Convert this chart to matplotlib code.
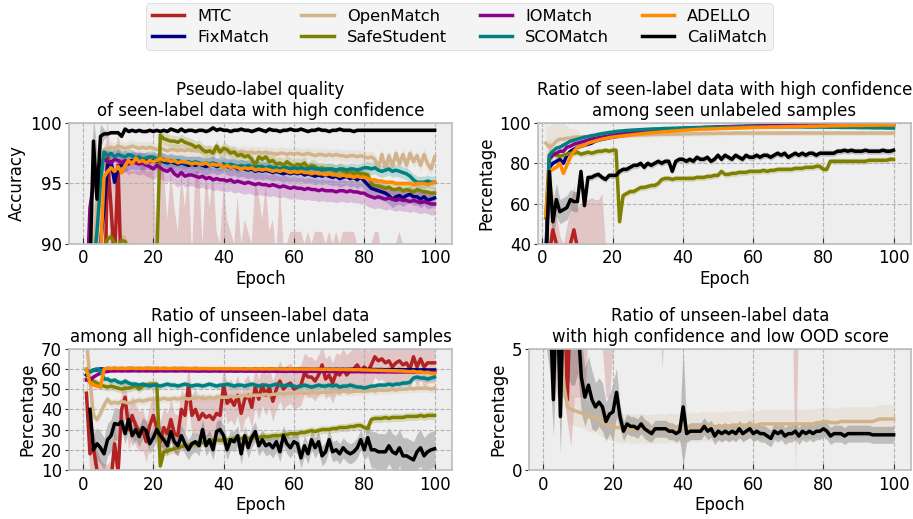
import numpy as np
import matplotlib.pyplot as plt

plt.style.use('bmh')

epochs = np.arange(1, 101)
methods = ['MTC', 'FixMatch', 'OpenMatch', 'SafeStudent', 'IOMatch', 'SCOMatch', 'ADELLO', 'CaliMatch']
colors = ['firebrick', 'navy', 'tan', 'olive', 'darkmagenta', 'teal', 'darkorange', 'black']

# ---------- panel 1: pseudo-label accuracy of seen-label data ----------
acc_mtc = [70, 72, 75, 78, 80, 82, 97.2, 93.0, 88.5, 96.5,
           86, 82, 80, 83, 85, 81, 84, 82, 80, 83,
           82, 84, 81, 83, 80, 82, 84, 81, 83, 82,
           80, 83, 85, 82, 81, 84, 82, 80, 83, 82,
           84, 81, 83, 82, 80, 84, 82, 83, 81, 82,
           83, 81, 84, 82, 80, 83, 82, 84, 81, 83,
           82, 80, 83, 81, 84, 82, 83, 81, 82, 80,
           83, 82, 84, 81, 83, 82, 80, 83, 82, 84,
           81, 83, 82, 80, 83, 82, 84, 81, 83, 82,
           80, 83, 82, 84, 81, 82, 83, 80, 82, 83]
acc_mtc_sd = [20, 20, 18, 16, 15, 14, 3, 4, 6, 3,
              11, 15, 16, 13, 11, 15, 13, 14, 16, 13,
              8, 12, 15, 9, 16, 11, 7, 15, 10, 14,
              9, 13, 11, 8, 15, 9, 14, 11, 7, 13,
              8, 10, 7, 12, 10, 8, 9, 7, 14, 12,
              9, 14, 7, 10, 9, 12, 8, 6, 10, 8,
              9, 11, 7, 10, 6, 9, 8, 10, 8, 11,
              7, 9, 6, 10, 8, 9, 11, 7, 8, 6,
              8, 7, 9, 11, 6, 8, 6, 9, 7, 9,
              10, 7, 8, 6, 9, 8, 7, 10, 8, 7]
acc_fix = [82, 84, 86, 88, 90, 93.0, 96.5, 96.8, 95.1, 96.4,
           96.5, 96.7, 96.8, 96.9, 96.8, 96.9, 96.8, 96.9, 96.8, 96.9,
           96.8, 96.9, 96.8, 96.7, 96.8, 96.7, 96.6, 96.7, 96.6, 96.5,
           96.6, 96.5, 96.6, 96.5, 96.4, 96.5, 96.6, 96.4, 96.5, 96.6,
           96.4, 96.3, 96.4, 96.2, 96.3, 96.2, 96.1, 96.2, 96.0, 96.1,
           96.0, 96.1, 96.0, 95.9, 96.0, 95.9, 95.8, 95.9, 95.8, 95.9,
           95.8, 95.9, 95.7, 95.8, 95.7, 95.6, 95.7, 95.6, 95.7, 95.6,
           95.5, 95.6, 95.4, 95.5, 95.6, 95.4, 95.5, 95.3, 95.5, 95.2,
           94.9, 94.6, 94.5, 94.4, 94.3, 94.2, 94.0, 93.7, 93.9, 94.0,
           93.8, 94.0, 94.1, 93.9, 93.9, 93.7, 93.9, 93.6, 93.7, 93.8]
acc_open = [86, 88, 89, 93, 96, 97.8, 97.9, 98.0, 97.9, 98.1,
            98.0, 97.9, 98.0, 98.1, 98.0, 97.9, 98.0, 97.9, 98.0, 97.9,
            97.8, 97.9, 97.8, 97.7, 97.8, 97.8, 97.7, 97.8, 97.7, 97.8,
            97.7, 97.8, 97.7, 97.6, 97.7, 97.7, 97.6, 97.7, 97.6, 97.7,
            97.6, 97.7, 97.6, 97.5, 97.6, 97.6, 97.5, 97.6, 97.5, 97.6,
            97.5, 97.6, 97.5, 97.5, 97.4, 97.5, 97.5, 97.4, 97.5, 97.4,
            97.5, 97.4, 97.4, 97.5, 97.4, 97.3, 97.4, 97.4, 97.3, 97.4,
            97.3, 97.4, 97.3, 97.3, 97.2, 97.3, 97.3, 97.2, 97.3, 97.2,
            97.1, 97.2, 97.0, 96.3, 97.4, 96.2, 97.3, 96.4, 97.5, 96.6,
            97.4, 96.5, 97.5, 96.8, 97.3, 96.5, 97.4, 96.6, 96.2, 97.2]
acc_safe = [86, 87, 87.5, 88, 88.5, 89.5, 90.4, 90.6, 90.1, 89.8,
            90.3, 90.2, 89.5, 89.0, 88.8, 88.5, 88.7, 88.4, 88.6, 88.5,
            88.7, 99.0, 98.7, 98.6, 98.5, 98.5, 98.4, 98.6, 98.4, 98.3,
            98.2, 98.0, 98.1, 97.8, 97.6, 97.7, 97.5, 98.1, 97.6, 97.9,
            97.8, 97.5, 97.6, 97.3, 97.4, 97.2, 97.3, 97.0, 96.5, 97.2,
            97.0, 97.2, 96.8, 96.9, 96.6, 96.7, 96.5, 96.8, 96.6, 96.4,
            96.6, 96.5, 96.7, 96.3, 96.5, 96.4, 96.2, 96.3, 96.1, 96.2,
            96.1, 96.0, 96.2, 96.0, 95.9, 96.0, 95.8, 95.9, 95.8, 95.8,
            95.7, 95.0, 94.8, 94.8, 94.7, 94.6, 94.7, 94.5, 94.5, 94.6,
            94.4, 94.5, 94.4, 94.3, 94.5, 94.4, 94.3, 94.3, 94.2, 94.2]
acc_io = [85, 93.0, 95.0, 96.0, 96.8, 97.0, 96.8, 96.7, 97.0, 96.9,
          96.7, 96.9, 96.6, 96.8, 96.7, 96.6, 96.7, 96.5, 96.4, 96.2,
          96.5, 96.3, 96.1, 96.0, 96.2, 95.8, 95.6, 95.9, 95.6, 95.7,
          95.7, 95.6, 95.5, 95.6, 95.4, 95.5, 95.3, 95.4, 95.3, 95.3,
          95.2, 95.3, 95.1, 95.2, 95.1, 95.0, 95.1, 95.0, 94.9, 95.0,
          94.9, 94.9, 94.8, 94.9, 94.8, 94.7, 94.8, 94.7, 94.6, 94.7,
          94.6, 94.6, 94.5, 94.6, 94.5, 94.5, 94.4, 94.5, 94.4, 94.4,
          94.4, 94.3, 94.4, 94.4, 94.3, 94.4, 94.3, 94.3, 94.2, 94.2,
          94.0, 93.9, 93.8, 93.9, 93.8, 93.7, 93.8, 93.7, 93.6, 93.7,
          93.6, 93.6, 93.5, 93.6, 93.5, 93.4, 93.5, 93.4, 93.3, 93.3]
acc_sco = [84, 86, 88, 91, 95, 97.6, 97.3, 97.5, 97.2, 97.4,
           97.3, 97.2, 97.4, 97.3, 97.1, 97.2, 97.0, 97.1, 97.2, 97.2,
           97.0, 97.1, 97.0, 96.8, 96.9, 96.8, 96.9, 96.8, 96.7, 96.8,
           96.7, 96.8, 96.7, 96.6, 96.7, 96.6, 96.7, 96.6, 96.5, 96.6,
           96.5, 96.6, 96.5, 96.4, 96.5, 96.4, 96.5, 96.4, 96.3, 96.4,
           96.4, 96.3, 96.4, 96.3, 96.3, 96.2, 96.3, 96.3, 96.2, 96.3,
           96.2, 96.3, 96.2, 96.2, 96.3, 96.2, 96.2, 96.1, 96.2, 96.2,
           96.2, 96.1, 96.2, 96.2, 96.1, 96.2, 96.2, 96.1, 96.2, 96.3,
           96.3, 96.2, 96.3, 96.1, 96.0, 96.1, 96.2, 96.0, 96.1, 96.0,
           95.9, 95.8, 95.6, 95.3, 95.1, 95.1, 95.1, 95.2, 95.1, 95.1]
acc_adello = [83, 85, 87, 88, 89, 95.5, 96.0, 96.3, 96.0, 96.4,
              95.9, 96.5, 96.9, 96.6, 97.1, 96.8, 96.9, 96.7, 96.9, 96.8,
              96.9, 97.1, 96.9, 97.0, 96.8, 96.9, 96.7, 96.8, 96.8, 96.7,
              96.6, 96.7, 96.6, 96.6, 96.7, 96.5, 96.6, 96.5, 96.6, 96.3,
              96.5, 96.3, 96.4, 96.3, 96.2, 96.3, 96.2, 96.3, 96.1, 96.2,
              96.1, 96.2, 96.1, 96.0, 96.1, 96.0, 96.1, 96.0, 95.9, 96.0,
              95.9, 96.0, 95.9, 95.9, 95.8, 95.9, 95.8, 95.8, 95.7, 95.8,
              95.7, 95.7, 95.6, 95.7, 95.6, 95.6, 95.5, 95.6, 95.5, 95.5,
              95.4, 95.3, 95.3, 95.2, 95.2, 95.1, 95.1, 95.1, 95.0, 95.0,
              95.0, 95.0, 95.0, 94.9, 95.0, 95.0, 95.0, 94.9, 95.0, 95.1]
acc_cali = [85, 88, 98.5, 93.7, 98.9, 99.1, 99.1, 99.2, 99.2, 99.2,
            98.9, 99.5, 99.3, 99.4, 99.3, 99.4, 99.3, 99.3, 99.4, 99.3,
            99.4, 99.3, 99.4, 99.3, 99.5, 99.4, 99.3, 99.5, 99.3, 99.4,
            99.4, 99.3, 99.4, 99.4, 99.3, 99.4, 99.6, 99.4, 99.5, 99.4,
            99.4, 99.3, 99.4, 99.4, 99.5, 99.4, 99.4, 99.3, 99.4, 99.5,
            99.4, 99.3, 99.5, 99.4, 99.4, 99.3, 99.4, 99.4, 99.5, 99.4,
            99.4, 99.5, 99.4, 99.3, 99.4, 99.4, 99.5, 99.4, 99.4, 99.3,
            99.4, 99.4, 99.5, 99.4, 99.4, 99.4, 99.3, 99.4, 99.4, 99.4,
            99.4, 99.4, 99.4, 99.4, 99.4, 99.4, 99.4, 99.4, 99.4, 99.4,
            99.4, 99.4, 99.4, 99.4, 99.4, 99.4, 99.4, 99.4, 99.4, 99.4]
acc_cali_sd = [5, 6, 2, 4, 1, 0.4] + [0.15] * 94
acc_sd = [acc_mtc_sd, 0.7, 0.5, 0.5, 0.9, 0.5, 0.2, acc_cali_sd]

# ---------- panel 2: ratio of seen-label data with high confidence ----------
seen_mtc = [30, 35, 47, 40, 32, 30, 34, 40, 47, 38,
            30, 28, 32, 25, 30, 27, 29, 26, 28, 25,
            26, 24, 27, 25, 23, 26, 24, 22, 25, 27,
            24, 26, 23, 25, 27, 24, 22, 26, 25, 23,
            26, 24, 25, 27, 23, 25, 26, 24, 22, 25,
            27, 24, 26, 23, 25, 24, 26, 27, 23, 25,
            24, 26, 25, 23, 27, 24, 25, 26, 24, 23,
            25, 27, 24, 26, 25, 23, 24, 26, 25, 27,
            24, 25, 23, 26, 24, 27, 25, 24, 26, 25,
            23, 25, 26, 24, 27, 25, 24, 26, 25, 24]
seen_mtc_sd = [20, 25, 20, 15, 12, 10, 15, 20, 22, 20,
               30, 35, 30, 38, 32, 35, 36, 12] + [5] * 82
seen_fix = [35, 78, 80, 81, 82, 80, 84, 86, 87, 88,
            88.5, 89, 89.5, 90, 91, 91.5, 92, 92.3, 92.7, 93,
            93.3, 93.5, 93.8, 94, 94.3, 94.5, 94.8, 95, 95.2, 95.5,
            95.6, 95.8, 96, 96.1, 96.3, 96.4, 96.5, 96.7, 96.8, 97,
            97.1, 97.2, 97.3, 97.3, 97.4, 97.5, 97.5, 97.6, 97.7, 97.8,
            97.8, 97.9, 97.9, 98, 98, 98.1, 98.1, 98.2, 98.2, 98.3,
            98.3, 98.3, 98.4, 98.4, 98.4, 98.5, 98.5, 98.5, 98.6, 98.6,
            98.6, 98.6, 98.7, 98.7, 98.7, 98.7, 98.8, 98.8, 98.8, 98.8,
            98.8, 98.9, 98.9, 98.9, 98.9, 98.9, 98.9, 99, 99, 99,
            99, 99, 99, 99, 99, 99, 99, 99, 99, 99]
seen_open = [90, 88, 89, 91, 92, 92, 92.5, 92.5, 93, 93,
             93, 93.2, 93.2, 93.4, 93.5, 93.5, 93.6, 93.5, 93.6, 93.5,
             93.6, 93.7, 93.8, 93.8, 93.9, 94, 94, 94.1, 94.1, 94.2,
             94.2, 94.3, 94.3, 94.4, 94.4, 94.4, 94.5, 94.5, 94.5, 94.6,
             94.6, 94.6, 94.7, 94.7, 94.7, 94.8, 94.8, 94.8, 94.8, 94.9,
             94.9, 94.9, 94.9, 94.9, 95, 95, 95, 95, 95, 95,
             95, 95, 95, 95, 95, 95, 95, 95, 95, 95,
             95, 95, 95, 95, 95, 95, 95, 95, 95, 95,
             95, 95, 95, 95, 95, 95, 95, 95, 95, 95,
             95, 95, 95, 95, 95, 95, 95, 95, 95, 95]
seen_open_sd = [9, 10, 12, 10, 15, 8, 6, 5, 4, 4] + [1.2] * 90
seen_safe = [53, 84, 85, 84, 83.5, 84, 84.5, 85, 85, 85.5,
             84.5, 85, 85.5, 85, 85.5, 86, 86, 86.5, 86, 86.5,
             86.5, 51, 64, 65, 66, 66, 67, 68, 68, 68.5,
             69, 69, 70, 72, 72.5, 72.5, 72, 72.5, 72.5, 72.5,
             72.5, 72.5, 72.5, 73, 73, 73, 73.5, 73.5, 74, 74,
             76, 74.5, 74.5, 75, 75, 75.5, 75.5, 75.5, 76, 76,
             76, 76, 76.5, 76, 76.5, 76.5, 77, 77, 77, 77,
             77, 77.5, 77.5, 77.5, 78, 78, 78, 78.5, 78.5, 77,
             77, 81, 81, 81, 81, 81, 81, 81, 81, 81,
             81, 81, 81.5, 81.5, 81.5, 81.5, 81.5, 81.5, 82, 82]
seen_safe_sd = [20, 8] + [1.5] * 98
seen_io = [30, 82, 84, 85, 86, 86, 88, 88.5, 89.5, 90,
           90.5, 91, 91.5, 92, 92.3, 92.7, 93, 93.3, 93.6, 94,
           94.2, 94.5, 94.7, 95, 95.2, 95.4, 95.6, 95.8, 96, 96.1,
           96.3, 96.4, 96.6, 96.7, 96.8, 96.9, 97, 97.1, 97.2, 97.3,
           97.4, 97.5, 97.6, 97.7, 97.7, 97.8, 97.9, 97.9, 98, 98.1,
           98.1, 98.2, 98.2, 98.3, 98.3, 98.4, 98.4, 98.5, 98.5, 98.5,
           98.6, 98.6, 98.6, 98.7, 98.7, 98.7, 98.8, 98.8, 98.8, 98.9,
           98.9, 98.9, 98.9, 99, 99, 99, 99, 99, 99.1, 99.1,
           99.1, 99.1, 99.1, 99.1, 99.2, 99.2, 99.2, 99.2, 99.2, 99.2,
           99.2, 99.2, 99.2, 99.3, 99.3, 99.3, 99.3, 99.3, 99.3, 99.3]
seen_sco = [25, 84, 86, 87.5, 88, 89, 90, 91, 91.5, 92,
            92.5, 93, 93.3, 93.7, 94, 94.4, 94.7, 95, 95.3, 95.5,
            95.8, 96, 96.1, 96.3, 96.4, 96.5, 96.6, 96.7, 96.8, 96.9,
            97, 97.1, 97.1, 97.2, 97.3, 97.3, 97.4, 97.4, 97.5, 97.5,
            97.6, 97.6, 97.7, 97.7, 97.7, 97.8, 97.8, 97.8, 97.9, 97.9,
            97.9, 97.9, 98, 98, 98, 98, 98, 98.1, 98.1, 98.1,
            98.1, 98.1, 98.1, 98.1, 98.1, 98.1, 98.1, 98.1, 98.1, 98.1,
            98.1, 98.1, 98.1, 98.1, 98, 98, 98, 98, 98, 98,
            97.9, 97.9, 97.9, 97.9, 97.8, 97.8, 97.8, 97.8, 97.8, 97.7,
            97.7, 97.7, 97.7, 97.6, 97.6, 97.6, 97.6, 97.5, 97.5, 97.5]
seen_adello = [54, 76, 77, 78, 80, 75, 79, 83, 86, 88,
               88.5, 89, 90, 90.5, 91, 91.5, 92, 92.3, 92.7, 93,
               93.2, 93.4, 93.6, 93.8, 94, 94.2, 94.4, 94.6, 94.8, 95,
               95.1, 95.3, 95.4, 95.6, 95.7, 95.8, 96, 96.1, 96.2, 96.4,
               96.5, 96.6, 96.7, 96.8, 96.9, 97, 97, 97.1, 97.1, 97.2,
               97.3, 97.3, 97.4, 97.4, 97.5, 97.5, 97.6, 97.6, 97.7, 97.8,
               97.8, 97.8, 97.9, 97.9, 98, 98, 98, 98.1, 98.1, 98.2,
               98.2, 98.2, 98.3, 98.3, 98.3, 98.4, 98.4, 98.4, 98.5, 98.5,
               98.5, 98.6, 98.6, 98.6, 98.7, 98.7, 98.7, 98.8, 98.8, 98.8,
               98.8, 98.9, 98.9, 98.9, 98.9, 99, 99, 99, 99, 99]
seen_cali = [30, 76, 51, 62, 56, 57, 58, 62, 61, 61,
             76, 59, 73, 73, 74, 74.5, 73, 72, 74, 74,
             74, 76, 77, 77, 78, 79, 79, 80, 78, 80,
             79, 80, 81, 80, 81, 81, 76, 81, 82, 82,
             81, 82, 81, 83, 82, 82, 83, 81, 82, 84,
             82, 84, 83, 82, 84, 83, 82, 84, 83, 83,
             84, 83, 84, 84, 83, 84, 85, 84, 85, 83,
             84, 85, 84, 85, 84, 85, 85, 84, 85, 85,
             85, 85, 85, 86, 86, 86.5, 86, 86.5, 86, 86,
             86, 86.5, 86, 86, 86, 86, 86.5, 86, 86, 86.5]
seen_cali_sd = [10, 15, 10, 8, 6, 6, 6, 5, 5, 5] + [1.5] * 90
seen_sd = [seen_mtc_sd, 0.8, seen_open_sd, seen_safe_sd, 0.5, 0.5, 0.6, seen_cali_sd]

# ---------- panel 3: ratio of unseen-label data among high-confidence samples ----------
un_mtc = [48, 18, 21, 10, 5, 3, 3, 5, 23, 9,
          40, 46, 30, 37, 32, 29, 30, 24, 32, 37,
          31, 24, 31, 28, 35, 28, 27, 40, 37, 52,
          37, 40, 35, 38, 36, 37, 35, 38, 37, 52,
          43, 45, 42, 47, 38, 45, 47, 41, 51, 45,
          52, 47, 51, 44, 50, 54, 50, 52, 53, 50,
          51, 52, 58, 56, 56, 54, 57, 62, 55, 57,
          53, 58, 57, 60, 57, 59, 60, 62, 59, 61,
          59, 62, 66, 64, 65, 63, 64, 61, 63, 64,
          62, 63, 60, 66, 61, 65, 61, 63, 63, 63]
un_fix = [57.0, 58.5, 59.5, 59.5, 60.0, 60.0, 60.2, 60.1, 60.2, 60.1,
          60.2, 60.1, 60.2, 60.2, 60.1, 60.2, 60.1, 60.2, 60.2, 60.1,
          60.2, 60.1, 60.2, 60.1, 60.1, 60.2, 60.1, 60.2, 60.1, 60.1,
          60.1, 60.2, 60.1, 60.1, 60.0, 60.1, 60.1, 60.0, 60.1, 60.0,
          60.0, 60.1, 60.0, 60.0, 60.1, 60.0, 60.0, 60.0, 60.1, 60.0,
          60.0, 59.9, 60.0, 60.0, 59.9, 60.0, 59.9, 60.0, 59.9, 59.9,
          59.9, 60.0, 59.9, 59.9, 59.9, 59.8, 59.9, 59.9, 59.8, 59.9,
          59.8, 59.9, 59.8, 59.8, 59.8, 59.9, 59.8, 59.8, 59.7, 59.8,
          59.7, 59.8, 59.7, 59.7, 59.7, 59.6, 59.7, 59.7, 59.6, 59.7,
          59.6, 59.6, 59.7, 59.6, 59.6, 59.5, 59.6, 59.5, 59.5, 59.5]
un_open = [75.0, 55.0, 37.0, 35.0, 38.0, 42.0, 45.0, 43.0, 43.5, 43.0,
           44.0, 43.5, 43.0, 43.5, 44.0, 44.5, 44.0, 44.5, 45.0, 45.0,
           45.0, 45.0, 45.5, 45.0, 45.0, 45.5, 45.0, 45.5, 45.5, 45.0,
           45.5, 45.5, 46.0, 45.5, 45.5, 46.0, 45.5, 46.0, 46.0, 46.0,
           46.0, 46.5, 46.0, 46.5, 46.5, 47.0, 46.5, 47.0, 47.0, 47.0,
           47.0, 47.5, 47.0, 47.5, 47.5, 48.0, 47.5, 48.0, 48.0, 48.0,
           48.0, 48.5, 48.0, 48.0, 48.5, 48.5, 48.0, 48.5, 48.5, 48.5,
           48.5, 49.0, 48.5, 49.0, 49.0, 48.5, 49.0, 49.0, 49.0, 49.0,
           49.0, 49.5, 49.0, 49.5, 49.5, 49.5, 49.5, 50.0, 49.5, 50.0,
           50.0, 50.0, 50.5, 50.0, 50.5, 50.5, 50.5, 50.5, 50.0, 50.5]
un_safe = [55.0, 55.5, 54.0, 53.0, 52.0, 51.5, 51.0, 51.5, 51.0, 50.5,
           50.0, 50.5, 50.5, 51.0, 51.5, 50.0, 51.5, 52.0, 52.5, 52.5,
           52.5, 12.0, 19.0, 19.5, 20.0, 20.5, 21.0, 21.5, 22.0, 22.0,
           23.0, 23.0, 23.5, 23.5, 24.0, 24.0, 24.5, 25.0, 24.5, 25.0,
           25.0, 25.0, 25.5, 25.5, 25.5, 26.0, 25.5, 26.0, 26.0, 26.0,
           26.5, 26.5, 26.5, 27.0, 27.0, 27.0, 27.5, 27.5, 28.0, 28.0,
           28.0, 28.5, 28.5, 29.0, 29.5, 29.0, 29.5, 30.0, 30.0, 30.0,
           30.5, 30.5, 31.0, 31.0, 31.0, 31.5, 31.5, 32.0, 32.0, 31.0,
           30.5, 35.0, 35.5, 35.5, 35.5, 36.0, 35.5, 36.0, 36.0, 36.0,
           36.0, 36.5, 36.5, 36.5, 36.5, 37.0, 36.5, 37.0, 37.0, 37.0]
un_io = [54.5, 54.5, 56.0, 57.0, 58.0, 58.5, 58.8, 59.0, 59.0, 59.1,
         59.0, 59.1, 59.0, 59.1, 59.1, 59.0, 59.1, 59.0, 59.1, 59.0,
         59.0, 59.1, 59.0, 59.0, 59.1, 59.0, 59.0, 59.1, 59.0, 59.0,
         59.0, 59.0, 58.9, 59.0, 59.0, 58.9, 59.0, 59.0, 58.9, 59.0,
         58.9, 59.0, 58.9, 58.9, 59.0, 58.9, 58.9, 58.9, 58.9, 58.9,
         58.9, 58.8, 58.9, 58.9, 58.8, 58.9, 58.8, 58.8, 58.9, 58.8,
         58.8, 58.8, 58.8, 58.7, 58.8, 58.8, 58.7, 58.8, 58.7, 58.7,
         58.7, 58.7, 58.7, 58.7, 58.6, 58.7, 58.6, 58.7, 58.6, 58.6,
         58.6, 58.6, 58.6, 58.5, 58.6, 58.5, 58.6, 58.5, 58.5, 58.5,
         58.5, 58.5, 58.4, 58.5, 58.4, 58.5, 58.4, 58.4, 58.4, 58.4]
un_sco = [59.5, 58.5, 59.5, 60.0, 59.5, 55.0, 55.0, 54.0, 54.5, 53.5,
          53.0, 54.0, 53.0, 52.5, 52.5, 52.0, 52.5, 52.0, 51.5, 52.0,
          52.0, 51.5, 52.0, 52.5, 52.0, 52.0, 51.5, 52.0, 52.5, 52.0,
          51.5, 52.0, 52.0, 51.5, 52.0, 52.5, 52.0, 51.5, 52.0, 52.0,
          52.5, 52.0, 51.5, 52.0, 52.0, 51.5, 52.0, 52.5, 52.0, 51.5,
          52.0, 52.0, 51.5, 52.0, 52.5, 52.0, 51.5, 52.0, 52.0, 51.5,
          51.0, 51.5, 52.0, 51.5, 51.0, 51.5, 52.0, 51.5, 51.5, 52.0,
          51.5, 52.0, 51.0, 51.5, 51.5, 52.0, 51.5, 51.0, 51.0, 50.5,
          51.0, 51.5, 51.5, 52.0, 52.0, 52.0, 52.5, 52.0, 52.5, 52.5,
          53.0, 53.0, 53.5, 55.5, 56.0, 55.5, 55.5, 55.0, 55.5, 56.0]
un_adello = [60.0, 53.0, 52.0, 51.5, 51.0, 60.0, 60.3, 60.2, 60.4, 60.2,
             60.3, 60.2, 60.3, 60.4, 60.2, 60.3, 60.2, 60.3, 60.3, 60.2,
             60.3, 60.2, 60.3, 60.2, 60.2, 60.3, 60.2, 60.2, 60.3, 60.2,
             60.2, 60.2, 60.1, 60.2, 60.2, 60.1, 60.2, 60.1, 60.2, 60.1,
             60.1, 60.2, 60.1, 60.1, 60.1, 60.0, 60.1, 60.1, 60.0, 60.1,
             60.0, 60.1, 60.0, 60.0, 60.1, 60.0, 60.0, 59.9, 60.0, 60.0,
             59.9, 60.0, 59.9, 59.9, 60.0, 59.9, 59.9, 59.8, 59.9, 59.8,
             59.8, 59.8, 59.7, 59.8, 59.7, 59.7, 59.6, 59.7, 59.6, 59.5,
             59.5, 59.4, 59.4, 59.3, 59.3, 59.2, 59.2, 59.1, 59.1, 59.0,
             59.0, 58.8, 58.6, 58.9, 58.4, 58.6, 58.1, 58.3, 57.9, 57.8]
un_cali = [np.nan, 40, 20, 23, 21, 18, 25, 27, 33, 32.5,
           34, 28, 35, 27, 30, 26.5, 31, 29.5, 23, 26,
           30, 27, 25, 22, 29, 24, 22, 27, 23, 20,
           23, 24, 22, 30, 22, 25, 20, 29, 30, 27,
           20, 25, 24, 27, 18, 27, 21, 26, 29, 22,
           25, 22, 23, 21, 24, 19, 27, 23, 21, 24,
           23, 16, 22, 18, 25, 21, 24, 17, 19, 25,
           19, 20, 18, 21, 19, 18, 19, 21, 25, 20,
           26, 20, 20, 19, 19, 19, 22, 19, 18, 21,
           17, 17, 16, 15, 19, 21, 17, 19, 20, 20.5]
un_cali_sd = [8] * 10 + [5] * 70 + [9] * 20
un_sd = [10, 0.6, 2, 2, 0.5, 1.5, 0.5, un_cali_sd]

# ---------- panel 4: unseen-label data with high confidence and low OOD score ----------
ood_mtc = [9, 9, 8, 8, 7, 8, 2.9, 8, 9, 7,
           6, 6, 9, 9, 10, 10, 9, 8, 8, 9,
           10, 10, 10, 10, 10, 10, 10, 10, 10, 10,
           10, 10, 10, 9, 10, 10, 10, 10, 10, 10,
           10, 10, 10, 10, 10, 10, 10, 10, 10, 10,
           10, 10, 10, 10, 10, 10, 10, 10, 10, 10,
           10, 10, 10, 10, 10, 10, 10, 10, 10, 10,
           10, 10, 10, 10, 10, 10, 10, 10, 10, 10,
           10, 10, 10, 10, 10, 10, 10, 10, 10, 10,
           10, 10, 10, 10, 10, 10, 10, 10, 10, 10]
ood_mtc_sd = [4, 4, 4, 5, 4, 5, 1, 7, 6, 4,
              3, 3, 3, 3, 4, 4, 4, 5, 5, 4,
              3, 3, 3, 3, 3, 3, 3, 3, 3, 3,
              3, 3, 3, 4.8, 3, 3, 3, 3, 3, 3,
              3, 3, 3, 3, 3, 3, 3, 3, 3, 3,
              3, 3, 3, 3, 3, 3, 3, 3, 3, 3,
              3, 3, 3, 3, 3, 3, 3, 3, 3, 3,
              3, 10, 3, 3, 3, 3, 3, 3, 3, 3,
              3, 3, 3, 3, 3, 3, 3, 3, 3, 3,
              3, 3, 3, 3, 3, 3, 3, 3, 3, 3]
ood_open = [7, 7, 6.5, 6, 5.5, 3.5, 2.6, 2.5, 2.45, 2.4,
            2.35, 2.3, 2.2, 2.15, 2.2, 2.05, 1.95, 1.9, 1.85, 1.8,
            1.75, 1.75, 1.7, 1.75, 1.7, 1.7, 1.7, 1.75, 1.7, 1.7,
            1.7, 1.7, 1.75, 1.7, 1.7, 1.75, 1.75, 1.7, 1.75, 1.75,
            1.75, 1.75, 1.8, 1.75, 1.8, 1.8, 1.8, 1.8, 1.8, 1.8,
            1.8, 1.85, 1.8, 1.85, 1.85, 1.85, 1.85, 1.85, 1.9, 1.85,
            1.85, 1.9, 1.9, 1.9, 1.9, 1.9, 1.9, 1.9, 1.9, 1.9,
            1.9, 1.9, 1.9, 1.9, 1.9, 1.9, 1.9, 1.95, 1.95, 2.0,
            2.0, 1.95, 1.95, 1.95, 2.0, 2.0, 2.0, 2.0, 2.0, 2.0,
            2.0, 2.0, 2.0, 2.0, 2.05, 2.1, 2.1, 2.1, 2.1, 2.1]
ood_cali = [8, 7, 2.9, 8, 2.2, 8, 7, 6, 6, 6,
            3.8, 3.0, 3.5, 2.9, 2.6, 2.8, 2.6, 2.0, 2.3, 2.4,
            3.2, 2.2, 1.6, 1.9, 1.8, 1.8, 1.7, 1.9, 1.7, 1.6,
            1.5, 1.7, 1.7, 1.7, 1.7, 1.6, 1.6, 1.5, 1.6, 2.6,
            1.5, 1.6, 1.6, 1.6, 1.6, 1.8, 1.6, 1.7, 1.4, 1.6,
            1.5, 1.6, 1.5, 1.6, 1.5, 1.7, 1.5, 1.6, 1.7, 1.5,
            1.6, 1.5, 1.5, 1.4, 1.3, 1.6, 1.5, 1.6, 1.4, 1.5,
            1.5, 1.6, 1.4, 1.6, 1.5, 1.6, 1.5, 1.6, 1.6, 1.7,
            1.6, 1.4, 1.5, 1.5, 1.5, 1.4, 1.5, 1.5, 1.5, 1.5,
            1.5, 1.5, 1.5, 1.45, 1.45, 1.45, 1.45, 1.45, 1.45, 1.45]
ood_cali_sd = [3, 3, 1.5, 3, 1.5, 3, 3, 2.5, 2.5, 2,
               1.5, 1.2, 1.2, 1.2, 1.0, 1.0, 1.0, 0.8, 0.8, 1.2,
               1.0, 0.5, 0.4, 0.4, 0.4, 0.4, 0.4, 0.4, 0.4, 0.4,
               0.35, 0.35, 0.35, 0.35, 0.35, 0.35, 0.35, 0.35, 0.35, 2.4] + [0.35] * 60

panels = [
    dict(means=[acc_mtc, acc_fix, acc_open, acc_safe, acc_io, acc_sco, acc_adello, acc_cali],
         sds=acc_sd, ylim=(90, 100), yticks=[90, 95, 100], ylabel='Accuracy',
         title='Pseudo-label quality\nof seen-label data with high confidence',
         pos=[0.0756, 0.530, 0.4195, 0.233], xlim=(-3.95, 104.95)),
    dict(means=[seen_mtc, seen_fix, seen_open, seen_safe, seen_io, seen_sco, seen_adello, seen_cali],
         sds=seen_sd, ylim=(40, 100), yticks=[40, 60, 80, 100], ylabel='Percentage',
         title='Ratio of seen-label data with high confidence\namong seen unlabeled samples',
         pos=[0.589, 0.530, 0.4085, 0.233], xlim=(-1.3, 104.9)),
    dict(means=[un_mtc, un_fix, un_open, un_safe, un_io, un_sco, un_adello, un_cali],
         sds=un_sd, ylim=(10, 70), yticks=[10, 20, 30, 40, 50, 60, 70], ylabel='Percentage',
         title='Ratio of unseen-label data\namong all high-confidence unlabeled samples',
         pos=[0.0756, 0.0944, 0.4195, 0.2337], xlim=(-3.95, 104.95)),
    dict(means=[ood_mtc, None, ood_open, None, None, None, None, ood_cali],
         sds=[ood_mtc_sd, 0, 0.6, 0, 0, 0, 0, ood_cali_sd], ylim=(0, 5), yticks=[0, 5],
         ylabel='Percentage',
         title='Ratio of unseen-label data\nwith high confidence and low OOD score',
         pos=[0.5794, 0.0944, 0.4184, 0.2337], xlim=(-3.95, 104.95)),
]

fig = plt.figure(figsize=(9.13, 5.19), dpi=100)
handles = []
for k, p in enumerate(panels):
    ax = fig.add_axes(p['pos'])
    for i, m in enumerate(methods):
        if p['means'][i] is None:
            continue
        mean = np.array(p['means'][i], dtype=float)
        sd = np.broadcast_to(np.array(p['sds'][i], dtype=float), mean.shape)
        ax.fill_between(epochs, mean - sd, mean + sd, color=colors[i], alpha=0.2, lw=0)
        line, = ax.plot(epochs, mean, color=colors[i], lw=2.5, label=m)
        if k == 0:
            handles.append(line)
    ax.set_xlim(*p['xlim'])
    ax.set_ylim(*p['ylim'])
    ax.set_yticks(p['yticks'])
    ax.set_xticks([0, 20, 40, 60, 80, 100])
    ax.set_xlabel('Epoch', fontsize=12, labelpad=2)
    ax.set_ylabel(p['ylabel'], fontsize=12, labelpad=3)
    ax.set_title(p['title'], fontsize=12, pad=5)
    ax.tick_params(axis='x', labelsize=12, direction='in', length=4, pad=4, color='#333333')
    ax.tick_params(axis='y', labelsize=12, direction='out', length=3, pad=2, color='#333333')
    ax.grid(True, color='#b2b2b2', linestyle='--', linewidth=0.8)
    for s in ax.spines.values():
        s.set_color('#bcbcbc')
        s.set_linewidth(1.2)

fig.legend(handles, methods, loc='upper center', bbox_to_anchor=(0.503, 1.0), ncol=4,
           fontsize=11.7, frameon=True, fancybox=True, facecolor='#f2f2f2',
           edgecolor='#cccccc', columnspacing=2.0, handlelength=2.0, labelspacing=0.35,
           borderpad=0.35, borderaxespad=0.2)

plt.savefig('out.png', dpi=100)
